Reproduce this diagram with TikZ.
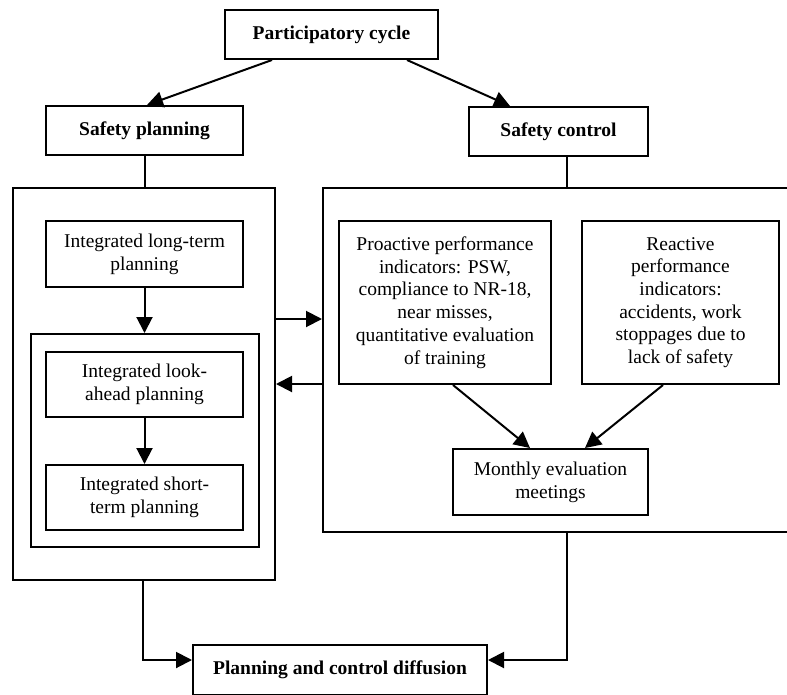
\documentclass[tikz,border=0pt]{standalone}
\usepackage{fontspec}
\setmainfont{Liberation Serif}
\usetikzlibrary{arrows.meta}
\begin{document}
\begin{tikzpicture}[x=1pt,y=-1pt,
  box/.style={draw, line width=2pt, rectangle, inner sep=0pt, align=center,
              font=\fontsize{19.5}{22.7}\selectfont},
  titlebox/.style={box, font=\fontsize{19.5}{22.7}\selectfont\bfseries},
  frame/.style={draw, line width=2pt, rectangle, inner sep=0pt},
  conn/.style={line width=2pt},
  arr/.style={line width=2pt, -{Triangle[length=16pt,width=16pt]}}
]
\useasboundingbox (0,0) rectangle (787,694);
\clip (0,0) rectangle (787,694);

% top level
\node[titlebox, minimum width=213pt, minimum height=49pt] (pc) at (331.5,34.5) {Participatory cycle};
\node[titlebox, minimum width=197pt, minimum height=49pt] (sp) at (144.5,130.5) {Safety planning};
\node[titlebox, minimum width=179pt, minimum height=49pt] (sc) at (558.5,131.5) {Safety control};

% frames
\node[frame, minimum width=262pt, minimum height=392pt] (outerL) at (144,384) {};
\node[frame, minimum width=473pt, minimum height=344pt] (outerR) at (559.5,360) {};
\node[frame, minimum width=228pt, minimum height=213pt] (inner) at (145,440.5) {};

% planning boxes
\node[box, minimum width=197pt, minimum height=66pt] (lt) at (144.5,254) {Integrated long-term\\planning};
\node[box, minimum width=197pt, minimum height=65pt] (la) at (144.5,384.5) {Integrated look-\\ahead planning};
\node[box, minimum width=197pt, minimum height=65pt] (st) at (144.5,497.5) {Integrated short-\\term planning};

% control boxes
\node[box, minimum width=212pt, minimum height=163pt] (pro) at (445,302.5) {Proactive performance\\indicators: PSW,\\compliance to NR-18,\\near misses,\\quantitative evaluation\\of training};
\node[box, minimum width=197pt, minimum height=163pt] (rea) at (680.5,302.5) {Reactive\\performance\\indicators:\\accidents, work\\stoppages due to\\lack of safety};
\node[box, minimum width=195pt, minimum height=66pt] (me) at (550.5,482) {Monthly evaluation\\meetings};

% bottom
\node[titlebox, minimum width=294pt, minimum height=50pt] (pcd) at (340,670) {Planning and control diffusion};

% helper coordinates
\coordinate (r1) at (0,319);
\coordinate (r2) at (0,384);
\coordinate (r3) at (0,660);

% connectors
\draw[arr] (pc.south -| 272,0) -- (sp.north -| 147,0);
\draw[arr] (pc.south -| 407,0) -- (sc.north -| 510,0);
\draw[conn] (sp.south) -- (sp.south |- outerL.north);
\draw[conn] (sc.south -| 567,0) -- (outerR.north -| 567,0);
\draw[arr] (lt.south) -- (lt.south |- inner.north);
\draw[arr] (la.south) -- (st.north);
\draw[arr] (outerL.east |- r1) -- (outerR.west |- r1);
\draw[arr] (outerR.west |- r2) -- (outerL.east |- r2);
\draw[arr] (pro.south -| 453,0) -- (me.north -| 530,0);
\draw[arr] (rea.south -| 663,0) -- (me.north -| 585,0);
\draw[arr] (outerL.south -| 143,0) |- (pcd.west |- r3);
\draw[arr] (outerR.south -| 567,0) |- (pcd.east |- r3);
\end{tikzpicture}
\end{document}
